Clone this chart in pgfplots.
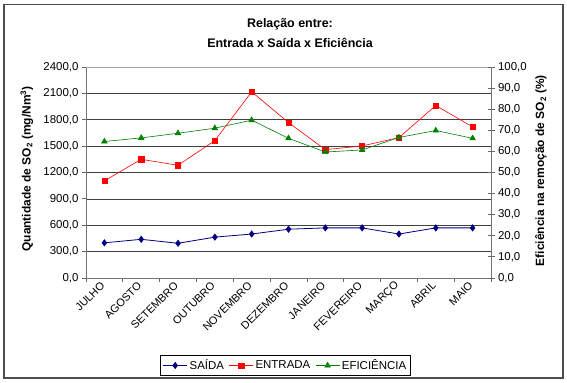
\documentclass[border=0pt]{standalone}
\usepackage{pgfplots}
\pgfplotsset{compat=1.18}
\usepackage{fontspec}
\setmainfont{Liberation Sans}
\definecolor{saida}{RGB}{0,0,128}
\definecolor{entrada}{RGB}{255,0,0}
\definecolor{efic}{RGB}{0,128,0}
\pgfplotstableread{
x saida entrada efic
0 400 1105 64.7
1 440 1350 66.4
2 395 1282 68.6
3 465 1563 71.0
4 500 2118 74.8
5 555 1768 66.2
6 570 1460 59.7
7 570 1502 60.7
8 500 1597 66.6
9 570 1962 69.9
10 570 1719 66.2
}\datatable
\begin{document}
\begin{tikzpicture}
\useasboundingbox (0bp,0bp) rectangle (567bp,383bp);
\draw[black!70, line width=1.3bp] (4bp,5bp) rectangle (563bp,378.5bp);
\node[font=\fontsize{12.5}{20}\selectfont\bfseries, align=center] at (290bp,350bp) {Relação entre:\\Entrada x Saída x Eficiência};
\pgfplotsset{
  common/.style={
    at={(86bp,105bp)}, anchor=south west, scale only axis,
    width=405bp, height=211bp,
    xmin=-0.5, xmax=10.5,
    axis line style={black!55, line width=0.8bp},
    /pgf/number format/.cd, fixed, fixed zerofill, precision=1, use comma, 1000 sep={}, assume math mode=true,
  },
}
\begin{axis}[common,
  ymin=0, ymax=2400, ytick={0,300,...,2400},
  axis x line*=bottom, axis y line*=left,
  xtick={0,...,10},
  xticklabels={JULHO,AGOSTO,SETEMBRO,OUTUBRO,NOVEMBRO,DEZEMBRO,JANEIRO,FEVEREIRO,MARÇO,ABRIL,MAIO},
  minor xtick={-0.5,0.5,...,10.5},
  major x tick style={draw=none},
  minor x tick style={black!60, line width=0.8bp},
  minor tick length=4bp,
  major tick length=4bp,
  tick align=outside,
  ytick style={black!60, line width=0.8bp},
  x tick label style={font=\fontsize{11}{13}\selectfont, rotate=45, anchor=east, xshift=1bp, yshift=0bp},
  y tick label style={font=\fontsize{11.5}{13}\selectfont},
  ymajorgrids, major grid style={black!75, line width=0.6bp},
  ylabel={Quantidade de SO\textsubscript{2} (mg/Nm\textsuperscript{3})},
  ylabel style={font=\fontsize{12}{14}\selectfont\bfseries, at={(rel axis cs:-0.146,0.517)}, anchor=center},
]
\draw[black!35, line width=0.8bp] (rel axis cs:0,1) -- (rel axis cs:1,1);
\addplot[color=saida, line width=0.8bp, mark=diamond*, mark size=3bp, mark options={fill=saida}] table[x=x,y=saida]{\datatable};
\addplot[color=entrada, line width=0.6bp, mark=square*, mark size=2.6bp, mark options={fill=entrada}] table[x=x,y=entrada]{\datatable};
\end{axis}
\begin{axis}[common,
  ymin=0, ymax=100, ytick={0,10,...,100},
  axis y line*=right, axis x line=none,
  tick align=center, major tick length=7bp,
  ytick style={black!60, line width=0.8bp},
  y tick label style={font=\fontsize{11.5}{13}\selectfont},
  ylabel={Eficiência na remoção de SO\textsubscript{2} (\%)},
  ylabel style={font=\fontsize{12}{14}\selectfont\bfseries, at={(rel axis cs:1.1235,0.509)}, anchor=center},
  legend columns=3,
  legend style={at={(rel axis cs:0.4926,-0.4147)}, anchor=center, draw=black, line width=0.8bp,
    font=\fontsize{11.5}{13}\selectfont, inner sep=2bp,
    /tikz/every even column/.append style={column sep=3bp}},
  legend image code/.code={\draw[mark repeat=2,mark phase=2] plot coordinates {(0bp,0bp) (12bp,0bp) (24bp,0bp)};},
]
\addlegendimage{color=saida, line width=0.8bp, mark=diamond*, mark size=3bp, mark options={fill=saida}}
\addlegendentry{SAÍDA}
\addlegendimage{color=entrada, line width=0.6bp, mark=square*, mark size=2.6bp, mark options={fill=entrada}}
\addlegendentry{ENTRADA}
\addplot[color=efic, line width=0.6bp, mark=triangle*, mark size=3.2bp, mark options={fill=efic}] table[x=x,y=efic]{\datatable};
\addlegendentry{EFICIÊNCIA}
\end{axis}
\end{tikzpicture}
\end{document}
